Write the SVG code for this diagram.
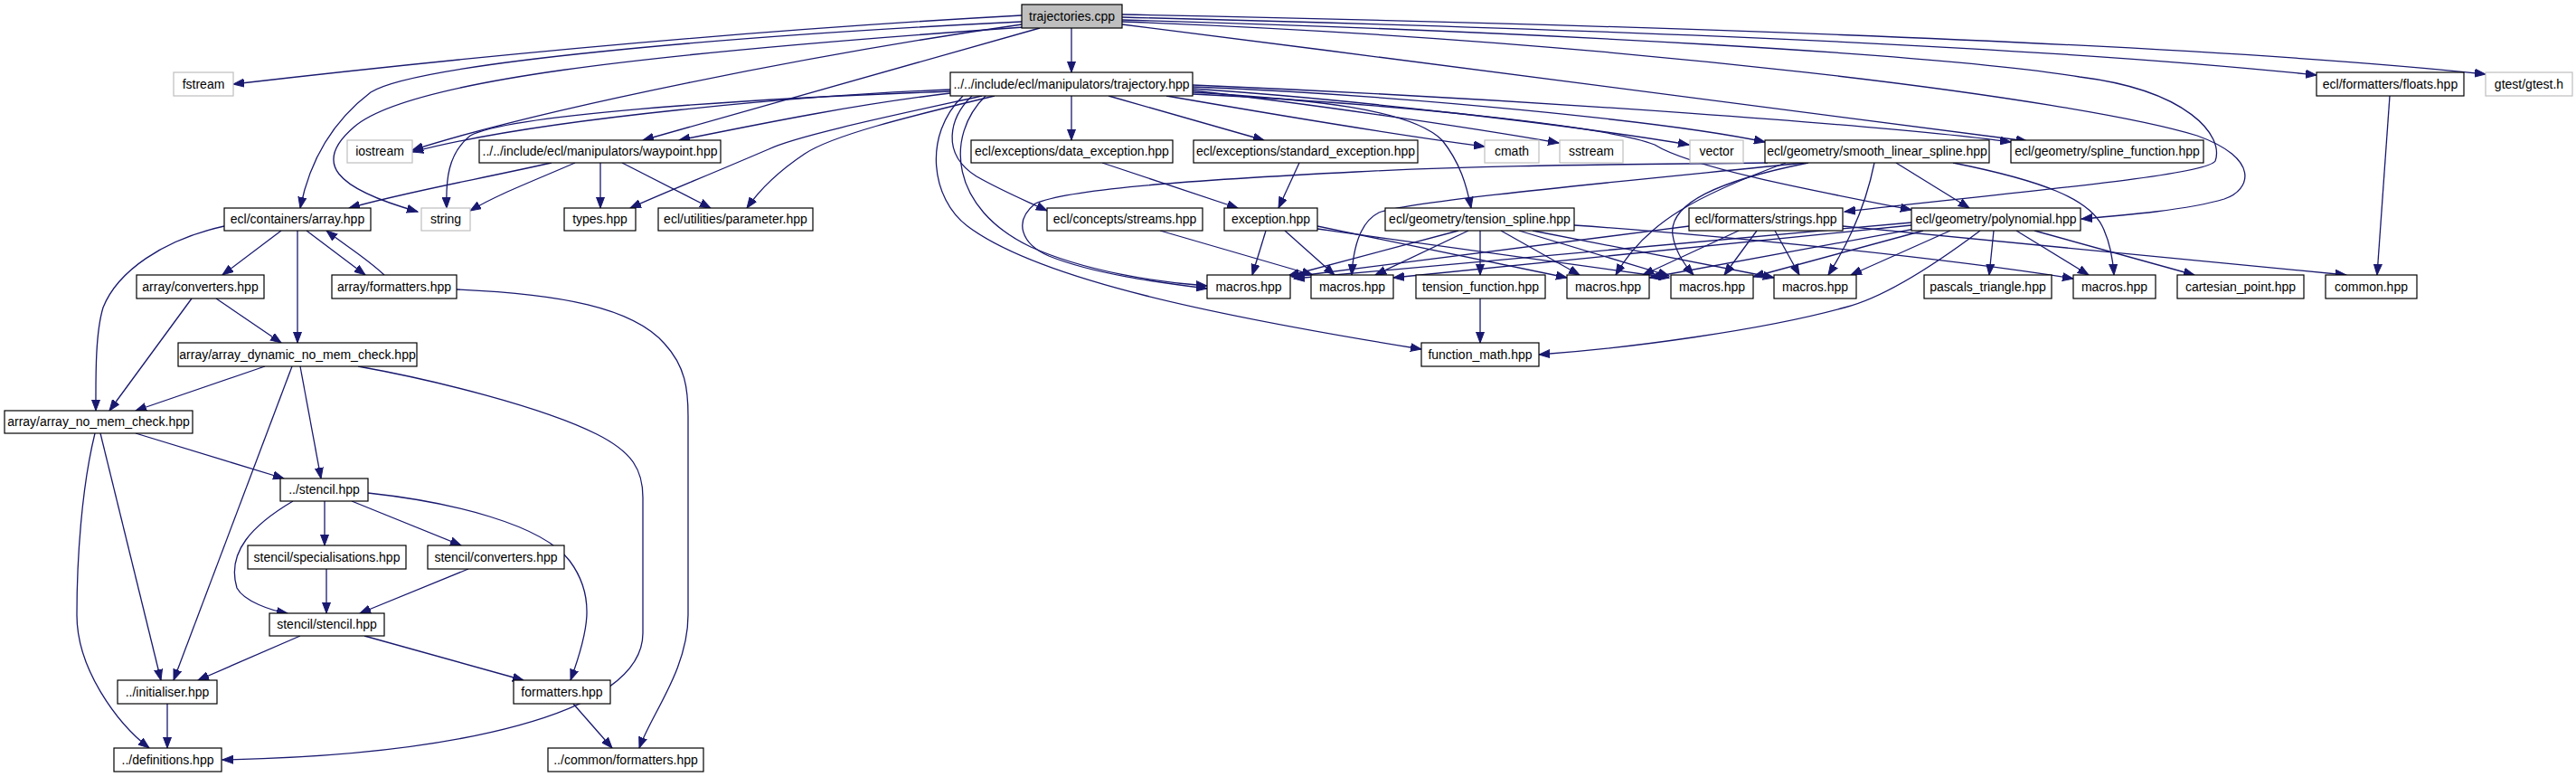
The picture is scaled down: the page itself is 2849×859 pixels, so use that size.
<svg xmlns="http://www.w3.org/2000/svg" width="2849" height="859" viewBox="0 0 2849 859">
<defs>
<style>
.n rect{fill:#fff;stroke:#000;stroke-width:1.2}
.s rect{fill:#fff;stroke:#bfbfbf;stroke-width:1.2}
.r rect{fill:#bfbfbf;stroke:#000;stroke-width:1.2}
text{font-family:"Liberation Sans",Helvetica,Arial,sans-serif;font-size:14px;text-anchor:middle;fill:#000}
#edges path{fill:none;stroke:#191970;stroke-width:1.3;marker-end:url(#a)}
</style>
<marker id="a" markerUnits="userSpaceOnUse" markerWidth="13" markerHeight="10" refX="12" refY="5" orient="auto"><path d="M0,0.5 L12,5 L0,9.5 z" fill="#191970" stroke="#191970" stroke-width="1"/></marker>
</defs>
<rect width="2849" height="859" fill="#fff"/>
<g id="edges">
<!-- trajectories.cpp -->
<path d="M1130,17 C 800,35 500,65 258,93"/>
<path d="M1130,27 C 900,60 600,120 456,166"/>
<path d="M1133,30 C 700,60 450,90 392,140 C 345,180 370,208 462,234"/>
<path d="M1130,24 C 800,40 460,70 410,102 C 360,140 340,190 332,230"/>
<path d="M1150,31 L711,155"/>
<path d="M1185,31 L1185,80"/>
<path d="M1241,19 C 1600,28 2200,45 2562,83"/>
<path d="M1241,16 C 1700,25 2400,45 2749,82"/>
<path d="M1241,22 C 1700,35 2150,60 2300,85 C 2420,100 2460,150 2450,178 C 2440,195 2200,215 2040,234"/>
<path d="M1241,24 C 1800,45 2300,110 2430,150 C 2500,175 2490,210 2460,220 C 2420,232 2350,238 2302,242"/>
<path d="M1241,27 C 1600,72 2000,125 2242,156"/>
<!-- trajectory.hpp -->
<path d="M1051,99 C 900,105 600,130 456,168"/>
<path d="M1051,101 C 800,110 560,128 520,150 C 495,170 493,200 494,230"/>
<path d="M1051,103 C 950,115 850,135 751,155"/>
<path d="M1086,106 C 1000,125 880,150 850,165 C 780,195 730,215 697,230"/>
<path d="M1100,106 C 1000,130 920,150 890,170 C 860,190 840,210 826,230"/>
<path d="M1185,106 L1185,155"/>
<path d="M1226,106 L1398,155"/>
<path d="M1290,106 C 1400,125 1550,150 1642,162"/>
<path d="M1319,100 C 1450,115 1620,140 1724,158"/>
<path d="M1319,98 C 1500,110 1750,140 1868,160"/>
<path d="M1319,96 C 1550,105 1850,135 1952,157"/>
<path d="M1319,94 C 1700,110 2100,140 2224,157"/>
<path d="M1319,102 C 1450,110 1560,120 1595,155 C 1615,180 1622,205 1627,230"/>
<path d="M1319,104 C 1550,115 1780,140 1830,160 C 1870,185 2000,210 2114,232"/>
<path d="M1075,106 C 1050,130 1040,170 1080,195 C 1110,212 1135,222 1158,233"/>
<path d="M1090,106 C 1045,150 1050,230 1140,273 C 1200,300 1280,312 1335,316"/>
<path d="M1065,106 C 1020,150 1030,220 1070,250 C 1150,310 1350,350 1572,386"/>
<!-- waypoint -->
<path d="M610,180 C 520,200 450,212 386,230"/>
<path d="M636,180 C 590,200 550,215 520,233"/>
<path d="M664,180 L664,230"/>
<path d="M688,180 L786,230"/>
<!-- array.hpp -->
<path d="M311,255 L246,304"/>
<path d="M329,255 L329,379"/>
<path d="M339,255 L404,304"/>
<path d="M248,250 C 180,265 130,300 114,340 C 105,370 106,420 106,454"/>
<path d="M425,304 C 405,285 380,270 361,255"/>
<path d="M239,330 L311,379"/>
<path d="M212,330 L121,454"/>
<path d="M505,320 C 620,325 700,340 735,380 C 758,405 761,430 761,460 L761,680 C 761,740 720,790 707,827"/>
<path d="M293,405 L150,454"/>
<path d="M332,405 L355,529"/>
<path d="M323,405 L192,752"/>
<path d="M396,405 C 480,420 600,450 660,480 C 700,500 711,520 711,550 L711,700 C 711,790 500,835 246,840"/>
<path d="M150,479 L314,529"/>
<path d="M111,479 L178,752"/>
<path d="M105,479 C 90,540 85,620 85,680 C 85,740 130,800 165,827"/>
<path d="M359,554 L359,603"/>
<path d="M389,554 L510,603"/>
<path d="M324,554 C 280,580 250,610 262,650 C 270,665 300,675 318,678"/>
<path d="M407,545 C 500,555 600,580 630,620 C 660,660 650,700 631,752"/>
<path d="M361,629 L361,678"/>
<path d="M518,629 L398,678"/>
<path d="M332,703 L219,752"/>
<path d="M403,703 L579,752"/>
<path d="M185,778 L185,827"/>
<path d="M634,778 L677,827"/>
<!-- exceptions -->
<path d="M1219,180 L1369,230"/>
<path d="M1437,180 L1414,230"/>
<path d="M1400,255 L1385,304"/>
<path d="M1421,255 L1476,304"/>
<path d="M1457,250 L1733,307"/>
<path d="M1457,253 L1846,307"/>
<path d="M1283,255 L1452,304"/>
<!-- tension_spline -->
<path d="M1613,255 L1425,305"/>
<path d="M1624,255 L1521,304"/>
<path d="M1637,255 L1637,304"/>
<path d="M1660,255 L1747,304"/>
<path d="M1680,255 L1846,305"/>
<path d="M1695,255 L1962,307"/>
<path d="M1741,249 C 1900,260 2150,285 2293,308"/>
<!-- strings -->
<path d="M1868,250 L1429,306"/>
<path d="M1923,255 L1817,304"/>
<path d="M1943,255 L1907,304"/>
<path d="M1963,255 L1990,304"/>
<path d="M2038,250 L2595,304"/>
<!-- polynomial -->
<path d="M2114,246 L1431,308"/>
<path d="M2114,249 L1541,307"/>
<path d="M2118,253 L1824,307"/>
<path d="M2127,255 L1939,306"/>
<path d="M2157,255 L2047,304"/>
<path d="M2190,255 C 2130,300 2080,330 2040,340 C 1950,365 1800,385 1702,392"/>
<path d="M2205,255 L2200,304"/>
<path d="M2230,255 L2310,304"/>
<path d="M2250,255 L2427,304"/>
<!-- smooth_linear_spline -->
<path d="M1955,180 C 1800,182 1650,182 1500,190 C 1300,200 1180,210 1145,225 C 1120,245 1130,270 1160,283 C 1210,303 1280,312 1335,319"/>
<path d="M1995,180 C 1800,200 1560,222 1525,235 C 1505,245 1497,270 1495,304"/>
<path d="M1975,180 C 1880,215 1820,245 1787,304"/>
<path d="M2000,180 C 1900,200 1845,225 1850,260 C 1853,280 1865,295 1873,304"/>
<path d="M2073,180 C 2065,220 2050,260 2022,304"/>
<path d="M2097,180 L2178,230"/>
<path d="M2160,180 C 2260,200 2310,220 2325,250 C 2335,270 2337,290 2338,304"/>
<!-- others -->
<path d="M2643,106 L2629,304"/>
<path d="M1637,330 L1637,379"/>
</g>
<g id="n0" class="r"><rect x="1130" y="5" width="111" height="26"/><text x="1185.5" y="23">trajectories.cpp</text></g>
<g id="n_fstream" class="s"><rect x="192" y="80" width="66" height="26"/><text x="225" y="98">fstream</text></g>
<g id="n_trajectory" class="n"><rect x="1051" y="80" width="268" height="26"/><text x="1185" y="98">../../include/ecl/manipulators/trajectory.hpp</text></g>
<g id="n_floats" class="n"><rect x="2562" y="80" width="163" height="26"/><text x="2643.5" y="98">ecl/formatters/floats.hpp</text></g>
<g id="n_gtest" class="s"><rect x="2749" y="80" width="96" height="26"/><text x="2797" y="98">gtest/gtest.h</text></g>
<g id="n_iostream" class="s"><rect x="384" y="155" width="72" height="25"/><text x="420" y="172">iostream</text></g>
<g id="n_waypoint" class="n"><rect x="530" y="155" width="267" height="25"/><text x="663.5" y="172">../../include/ecl/manipulators/waypoint.hpp</text></g>
<g id="n_data_exc" class="n"><rect x="1074" y="155" width="223" height="25"/><text x="1185.5" y="172">ecl/exceptions/data_exception.hpp</text></g>
<g id="n_std_exc" class="n"><rect x="1320" y="155" width="248" height="25"/><text x="1444" y="172">ecl/exceptions/standard_exception.hpp</text></g>
<g id="n_cmath" class="s"><rect x="1642" y="155" width="60" height="25"/><text x="1672" y="172">cmath</text></g>
<g id="n_sstream" class="s"><rect x="1725" y="155" width="70" height="25"/><text x="1760" y="172">sstream</text></g>
<g id="n_vector" class="s"><rect x="1869" y="155" width="59" height="25"/><text x="1898.5" y="172">vector</text></g>
<g id="n_smooth" class="n"><rect x="1952" y="155" width="248" height="25"/><text x="2076" y="172">ecl/geometry/smooth_linear_spline.hpp</text></g>
<g id="n_splinefn" class="n"><rect x="2224" y="155" width="213" height="25"/><text x="2330.5" y="172">ecl/geometry/spline_function.hpp</text></g>
<g id="n_array" class="n"><rect x="248" y="230" width="162" height="25"/><text x="329" y="247">ecl/containers/array.hpp</text></g>
<g id="n_string" class="s"><rect x="466" y="230" width="54" height="25"/><text x="493" y="247">string</text></g>
<g id="n_types" class="n"><rect x="624" y="230" width="79" height="25"/><text x="663.5" y="247">types.hpp</text></g>
<g id="n_param" class="n"><rect x="728" y="230" width="171" height="25"/><text x="813.5" y="247">ecl/utilities/parameter.hpp</text></g>
<g id="n_streams" class="n"><rect x="1158" y="230" width="172" height="25"/><text x="1244" y="247">ecl/concepts/streams.hpp</text></g>
<g id="n_exception" class="n"><rect x="1354" y="230" width="103" height="25"/><text x="1405.5" y="247">exception.hpp</text></g>
<g id="n_tension" class="n"><rect x="1532" y="230" width="209" height="25"/><text x="1636.5" y="247">ecl/geometry/tension_spline.hpp</text></g>
<g id="n_strings" class="n"><rect x="1868" y="230" width="170" height="25"/><text x="1953" y="247">ecl/formatters/strings.hpp</text></g>
<g id="n_poly" class="n"><rect x="2114" y="230" width="187" height="25"/><text x="2207.5" y="247">ecl/geometry/polynomial.hpp</text></g>
<g id="n_conv" class="n"><rect x="151" y="304" width="141" height="26"/><text x="221.5" y="322">array/converters.hpp</text></g>
<g id="n_afmt" class="n"><rect x="367" y="304" width="138" height="26"/><text x="436" y="322">array/formatters.hpp</text></g>
<g id="n_m1" class="n"><rect x="1335" y="304" width="92" height="26"/><text x="1381" y="322">macros.hpp</text></g>
<g id="n_m2" class="n"><rect x="1450" y="304" width="91" height="26"/><text x="1495.5" y="322">macros.hpp</text></g>
<g id="n_tfn" class="n"><rect x="1566" y="304" width="143" height="26"/><text x="1637.5" y="322">tension_function.hpp</text></g>
<g id="n_m3" class="n"><rect x="1733" y="304" width="91" height="26"/><text x="1778.5" y="322">macros.hpp</text></g>
<g id="n_m4" class="n"><rect x="1848" y="304" width="91" height="26"/><text x="1893.5" y="322">macros.hpp</text></g>
<g id="n_m5" class="n"><rect x="1962" y="304" width="91" height="26"/><text x="2007.5" y="322">macros.hpp</text></g>
<g id="n_pascal" class="n"><rect x="2128" y="304" width="141" height="26"/><text x="2198.5" y="322">pascals_triangle.hpp</text></g>
<g id="n_m6" class="n"><rect x="2293" y="304" width="91" height="26"/><text x="2338.5" y="322">macros.hpp</text></g>
<g id="n_cart" class="n"><rect x="2408" y="304" width="140" height="26"/><text x="2478" y="322">cartesian_point.hpp</text></g>
<g id="n_common" class="n"><rect x="2572" y="304" width="101" height="26"/><text x="2622.5" y="322">common.hpp</text></g>
<g id="n_adyn" class="n"><rect x="197" y="379" width="264" height="26"/><text x="329" y="397">array/array_dynamic_no_mem_check.hpp</text></g>
<g id="n_fmath" class="n"><rect x="1572" y="379" width="130" height="26"/><text x="1637" y="397">function_math.hpp</text></g>
<g id="n_anm" class="n"><rect x="5" y="454" width="208" height="25"/><text x="109" y="471">array/array_no_mem_check.hpp</text></g>
<g id="n_stencil" class="n"><rect x="310" y="529" width="97" height="25"/><text x="358.5" y="546">../stencil.hpp</text></g>
<g id="n_spec" class="n"><rect x="274" y="603" width="175" height="26"/><text x="361.5" y="621">stencil/specialisations.hpp</text></g>
<g id="n_sconv" class="n"><rect x="473" y="603" width="151" height="26"/><text x="548.5" y="621">stencil/converters.hpp</text></g>
<g id="n_sst" class="n"><rect x="298" y="678" width="127" height="25"/><text x="361.5" y="695">stencil/stencil.hpp</text></g>
<g id="n_init" class="n"><rect x="130" y="752" width="110" height="26"/><text x="185" y="770">../initialiser.hpp</text></g>
<g id="n_fmt" class="n"><rect x="568" y="752" width="107" height="26"/><text x="621.5" y="770">formatters.hpp</text></g>
<g id="n_defs" class="n"><rect x="126" y="827" width="119" height="26"/><text x="185.5" y="845">../definitions.hpp</text></g>
<g id="n_cfmt" class="n"><rect x="606" y="827" width="172" height="26"/><text x="692" y="845">../common/formatters.hpp</text></g>
</svg>
